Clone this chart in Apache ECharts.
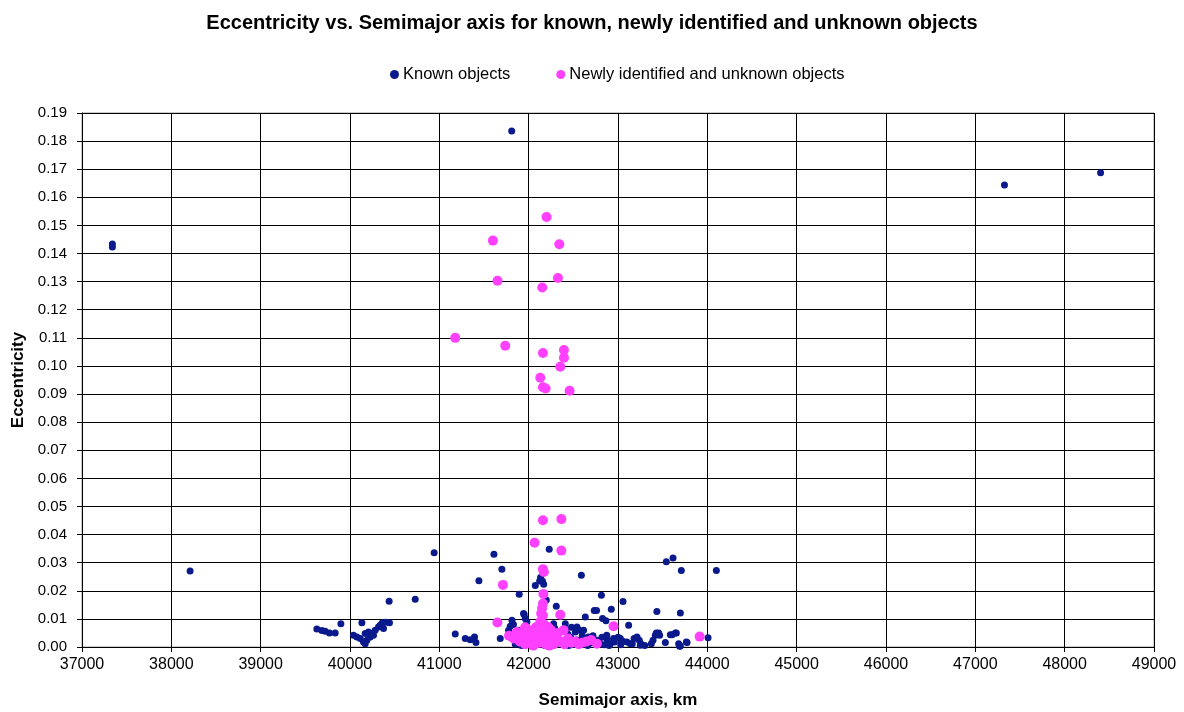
<!DOCTYPE html>
<html>
<head>
<meta charset="utf-8">
<title>Eccentricity vs. Semimajor axis</title>
<script src="https://cdn.jsdelivr.net/npm/echarts@6/dist/echarts.min.js"></script>
<style>
  html, body { margin: 0; padding: 0; background: #ffffff; }
  #chart { width: 1184px; height: 712px; }
</style>
</head>
<body>
<div id="chart"></div>
<script>
// Semimajor axis (km) and eccentricity of catalogued objects
const knownA = [
  37340, 37340, 38210, 41810, 47326, 48402,
  40942, 41611, 41700, 41443, 41894, 40438, 40730,
  42230, 42133, 42155, 42074, 42197, 42309, 41950, 42123, 42168,
  40400, 40360, 41813, 41794, 41775, 41178, 41290, 41346, 41394, 41410, 41682,
  41943, 41962, 41980, 42279, 42410, 42421,
  42590, 43541, 43616, 43709, 44101, 42814, 43056, 42734, 42760, 42925,
  43435, 43698, 42634, 42827, 42865, 43119, 42541, 42522, 42615,
  43429, 43466, 43605, 43653, 44008, 43213, 43238, 43261, 43392, 43373,
  43530, 43679, 43698, 43773, 43250, 43418, 43455, 43586, 43642, 43690, 43765,
  42874, 42950, 43026, 42914, 43100, 43138, 42670, 42764, 42802,
  39629, 39685, 39722, 39770, 39834, 39898, 40133, 40442,
  40039, 40077, 40114, 40151, 40170, 40189, 40226, 40244, 40282, 40319, 40338, 40375, 40207, 40263, 40170,
  41850, 41900, 41920, 41980, 42000, 42020, 42060, 42100, 42180, 42250, 42300, 42320,
  42380, 42420, 42450, 42470, 42500, 42540, 42580, 42620, 42660, 42700, 42720, 42780,
  42820, 42850, 42880, 42900, 42960, 43000, 43030, 43060, 43160, 43180, 43300,
  42570, 42600, 42480, 42440, 42350, 42290, 41880, 41830
];
const knownE = [
  0.1434, 0.1423, 0.0270, 0.1836, 0.1644, 0.1687,
  0.0335, 0.0330, 0.0277, 0.0236, 0.0188, 0.0163, 0.0170,
  0.0348, 0.0247, 0.0234, 0.0219, 0.0167, 0.0145, 0.0116, 0.0235, 0.0223,
  0.0088, 0.0085, 0.0095, 0.0074, 0.0060, 0.0046, 0.0030, 0.0026, 0.0036, 0.0016, 0.0030,
  0.0119, 0.0101, 0.0089, 0.0083, 0.0083, 0.0062,
  0.0255, 0.0303, 0.0317, 0.0272, 0.0272, 0.0184, 0.0162, 0.0130, 0.0130, 0.0134,
  0.0126, 0.0121, 0.0107, 0.0101, 0.0093, 0.0077, 0.0071, 0.0053, 0.0060,
  0.0050, 0.0042, 0.0044, 0.0050, 0.0033, 0.0036, 0.0024, 0.0010, 0.0024, 0.0012,
  0.0016, 0.0012, 0.0004, 0.0016, 0.0006, 0.0042, 0.0050, 0.0044, 0.0050, 0.0003, 0.0018,
  0.0042, 0.0030, 0.0030, 0.0012, 0.0018, 0.0012, 0.0036, 0.0024, 0.0012,
  0.0064, 0.0059, 0.0056, 0.0050, 0.0050, 0.0083, 0.0086, 0.0086,
  0.0042, 0.0036, 0.0030, 0.0018, 0.0012, 0.0024, 0.0036, 0.0048, 0.0060, 0.0071, 0.0077, 0.0066, 0.0053, 0.0042, 0.0048,
  0.0010, 0.0035, 0.0005, 0.0020, 0.0010, 0.0030, 0.0008, 0.0020, 0.0005, 0.0012, 0.0008, 0.0020,
  0.0010, 0.0025, 0.0005, 0.0035, 0.0010, 0.0025, 0.0015, 0.0030, 0.0005, 0.0015, 0.0040, 0.0020,
  0.0035, 0.0008, 0.0025, 0.0005, 0.0018, 0.0035, 0.0008, 0.0020, 0.0012, 0.0030, 0.0005,
  0.0060, 0.0040, 0.0070, 0.0045, 0.0055, 0.0068, 0.0060, 0.0080
];

// Newly identified and unknown objects
const newA = [
  42200, 41600, 42343, 41651, 42328, 42152, 41178, 41738, 42160, 42395, 42395,
  42354, 42130, 42160, 42190, 42458,
  42160, 42366, 42066, 42366, 42160, 42170, 41712, 42165, 42160, 42150, 42140,
  42160, 42354, 41650, 42391, 42950, 43914, 42764, 41868,
  41780, 41830, 41870, 41900, 41940, 41960, 41990, 42010, 42030, 42050, 42070,
  42080, 42100, 42110, 42120, 42130, 42140, 42150, 42160, 42175, 42180, 42190,
  42200, 42210, 42220, 42240, 42260, 42280, 42300, 42330, 42360, 42400, 42440,
  42480, 42520, 42560, 42600, 42650, 42700, 42140, 42250, 41960, 42050, 42230
];
const newE = [
  0.1530, 0.1446, 0.1433, 0.1303, 0.1313, 0.1279, 0.1100, 0.1072, 0.1046, 0.1057, 0.1029,
  0.0997, 0.0958, 0.0924, 0.0920, 0.0912,
  0.0451, 0.0455, 0.0371, 0.0343, 0.0277, 0.0267, 0.0221, 0.0189, 0.0155, 0.0137, 0.0119,
  0.0112, 0.0115, 0.0087, 0.0060, 0.0074, 0.0037, 0.0012, 0.0053,
  0.0040, 0.0030, 0.0050, 0.0020, 0.0040, 0.0010, 0.0030, 0.0060, 0.0020, 0.0040, 0.0010,
  0.0070, 0.0030, 0.0050, 0.0015, 0.0090, 0.0040, 0.0065, 0.0020, 0.0080, 0.0035, 0.0010,
  0.0050, 0.0030, 0.0070, 0.0020, 0.0040, 0.0010, 0.0030, 0.0050, 0.0020, 0.0010, 0.0030,
  0.0015, 0.0020, 0.0010, 0.0015, 0.0020, 0.0025, 0.0085, 0.0060, 0.0070, 0.0005, 0.0005
];

const xTicks = { min: 37000, max: 49000, step: 1000 };
const yTicks = { min: 0, max: 0.19, step: 0.01 };

const knownPoints = knownA.map((a, i) => [a, knownE[i]]);
const newPoints = newA.map((a, i) => [a, newE[i]]);

const FONT = 'Liberation Sans, Arial, sans-serif';
const chart = echarts.init(document.getElementById('chart'), null, { renderer: 'canvas' });

chart.setOption({
  backgroundColor: '#ffffff',
  animation: false,
  title: {
    text: 'Eccentricity vs. Semimajor axis for known, newly identified and unknown objects',
    left: 'center',
    top: 8,
    textStyle: { fontFamily: FONT, fontSize: 20, fontWeight: 'bold', color: '#000000' }
  },
  legend: {
    top: 61,
    left: 385,
    itemGap: 46,
    itemWidth: 9,
    itemHeight: 9,
    textStyle: { fontFamily: FONT, fontSize: 16.5, color: '#000000', padding: [0, 0, 0, -1] },
    data: [
      { name: 'Known objects', icon: 'circle', itemStyle: { color: '#0a1a8c' } },
      { name: 'Newly identified and unknown objects', icon: 'circle', itemStyle: { color: '#ff40ff' } }
    ]
  },
  grid: {
    left: 82, right: 30, top: 113, bottom: 65,
    containLabel: false,
    outerBoundsMode: 'none',
    show: true, borderColor: '#9a9a9a', borderWidth: 1, backgroundColor: '#ffffff'
  },
  xAxis: {
    type: 'value',
    min: xTicks.min, max: xTicks.max, interval: xTicks.step,
    name: 'Semimajor axis, km',
    nameLocation: 'middle',
    nameGap: 45,
    nameTextStyle: { fontFamily: FONT, fontSize: 17, fontWeight: 'bold', color: '#000000' },
    axisLine: { show: true, onZero: false, lineStyle: { color: '#000000', width: 1 } },
    axisTick: { show: true, inside: false, length: 5, lineStyle: { color: '#000000' } },
    axisLabel: { fontFamily: FONT, fontSize: 16, color: '#000000', margin: 10, formatter: v => String(v) },
    splitLine: { show: true, lineStyle: { color: '#000000', width: 1 } }
  },
  yAxis: {
    type: 'value',
    min: yTicks.min, max: yTicks.max, interval: yTicks.step,
    name: 'Eccentricity',
    nameLocation: 'middle',
    nameGap: 54,
    nameTextStyle: { fontFamily: FONT, fontSize: 17, fontWeight: 'bold', color: '#000000' },
    axisLine: { show: true, onZero: false, lineStyle: { color: '#000000', width: 1 } },
    axisTick: { show: true, inside: false, length: 5, lineStyle: { color: '#000000' } },
    axisLabel: { fontFamily: FONT, fontSize: 15, color: '#000000', margin: 15, formatter: v => v.toFixed(2) },
    splitLine: { show: true, lineStyle: { color: '#000000', width: 1 } }
  },
  series: [
    {
      name: 'Known objects',
      type: 'scatter',
      symbol: 'circle',
      symbolSize: 7,
      itemStyle: { color: '#0a1a8c', opacity: 1 },
      data: knownPoints,
      z: 2
    },
    {
      name: 'Newly identified and unknown objects',
      type: 'scatter',
      symbol: 'circle',
      symbolSize: 10,
      itemStyle: { color: '#ff40ff', opacity: 1 },
      data: newPoints,
      z: 3
    }
  ]
});
</script>
</body>
</html>
